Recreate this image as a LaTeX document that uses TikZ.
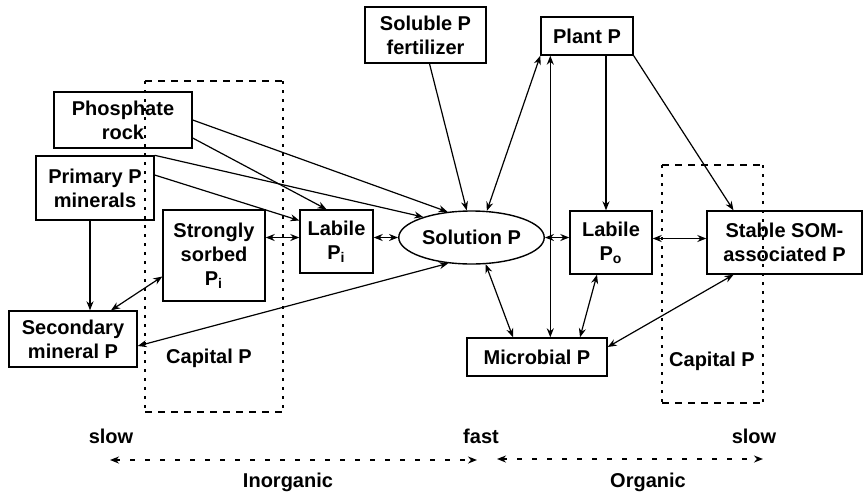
\documentclass[tikz,border=0pt]{standalone}
\usepackage{fontspec}
\setmainfont{Liberation Sans}
\usetikzlibrary{shapes.geometric,arrows.meta}
\tikzset{
	pool/.style={draw,line width=0.7pt,align=center,font=\bfseries,inner sep=1pt},
	soln/.style={pool,ellipse},
	hside/.style={line width=1pt,dash pattern=on 3.5pt off 3pt},
	vside/.style={line width=1pt,dash pattern=on 1.5pt off 3pt},
	scaleline/.style={<->,line width=1pt,dash pattern=on 2.5pt off 5pt},
	tag/.style={font=\bfseries}
}
\begin{document}
\begin{tikzpicture}[x=0.5pt,y=-0.5pt,>={Stealth[length=4.5pt,width=3.5pt]},line width=0.6pt]
	\useasboundingbox (0,0) rectangle (863,494);
	% capital P boxes
	\draw[hside] (145,81)--(283,81) (145,412)--(283,412);
	\draw[vside] (145,81)--(145,412) (283,81)--(283,412);
	\draw[hside] (662,165)--(763,165) (662,403)--(763,403);
	\draw[vside] (662,165)--(662,403) (763,165)--(763,403);
	\node[tag] (capL) at (209,358) {Capital P};
	\node[tag] (capR) at (712,361) {Capital P};
	% pools
	\node[pool,minimum width=69pt,minimum height=28pt] (rock) at (123,120) {Phosphate\\rock};
	\node[pool,minimum width=59pt,minimum height=32pt] (prim) at (95,188) {Primary P\\minerals};
	\node[pool,minimum width=64pt,minimum height=28pt] (sec) at (73,339) {Secondary\\mineral P};
	\node[pool,minimum width=51pt,minimum height=45.5pt] (sorb) at (214,255.5) {Strongly\\sorbed\\P\textsubscript{i}};
	\node[pool,minimum width=36.5pt,minimum height=31.5pt] (labi) at (336.5,241.5) {Labile\\P\textsubscript{i}};
	\node[soln,minimum width=60.5pt,minimum height=26.5pt] (sol) at (471.5,237.5) {Solution P};
	\node[pool,minimum width=60.5pt,minimum height=28pt] (fert) at (425.5,35) {Soluble P\\fertilizer};
	\node[pool,minimum width=46pt,minimum height=19pt] (plant) at (587,36) {Plant P};
	\node[pool,minimum width=41pt,minimum height=31.5pt] (labo) at (611,242.5) {Labile\\P\textsubscript{o}};
	\node[pool,minimum width=77.5pt,minimum height=31.5pt] (som) at (784.5,242.5) {Stable SOM-\\associated P};
	\node[pool,minimum width=70pt,minimum height=19pt] (mic) at (537,357) {Microbial P};
	% inorganic side
	\draw[->] (rock.east) -- (sol.133);
	\draw[->] ([yshift=-9pt]rock.east) -- ([xshift=-5pt]labi.north);
	\draw[->] (prim.north east) -- (sol.157);
	\draw[->] ([yshift=6.5pt]prim.east) -- ([yshift=10.5pt]labi.west);
	\draw[->] ([xshift=-2.5pt]prim.south) -- ([xshift=-2.5pt]prim.south |- sec.north);
	\draw[<->] ([xshift=19pt]sec.north) -- ([yshift=-10.5pt]sorb.west);
	\draw[<->] (sorb.east |- sol.west) -- (labi.west |- sol.west);
	\draw[<->] (labi.east |- sol.west) -- (sol.west);
	\draw[<->] (sol.228) -- ([yshift=-3.5pt]sec.east);
	\draw[->] ([xshift=2pt]fert.south) -- (sol.100);
	% organic side
	\draw[<->] (sol.60) -- (plant.south west);
	\draw[<->] (sol.east) -- (sol.east -| labo.west);
	\draw[<->] ([xshift=5pt]plant.south west) -- ([xshift=5pt]plant.south west |- mic.north);
	\draw[->] ([xshift=9.5pt]plant.south) -- ([xshift=9.5pt]plant.south |- labo.north);
	\draw[->] (plant.south east) -- ([xshift=-25.5pt]som.north);
	\draw[<->] ([yshift=2pt]labo.east) -- ([yshift=2pt]som.west);
	\draw[<->] (sol.298) -- ([xshift=-12pt]mic.north);
	\draw[<->] ([xshift=-7pt]labo.south) -- ([xshift=21.5pt]mic.north);
	\draw[<->] ([xshift=-25.5pt]som.south) -- ([yshift=5pt]mic.east);
	% rate scale
	\node[tag] (slowL) at (111,436) {slow};
	\node[tag] (fast) at (481,436) {fast};
	\node[tag] (slowR) at (754,436) {slow};
	\node[tag] (inorg) at (288,482) {Inorganic};
	\node[tag] (org) at (648,482) {Organic};
	\coordinate (inL) at (110,460);
	\coordinate (inR) at (477,460);
	\coordinate (orL) at (497,459);
	\coordinate (orR) at (763,459);
	\draw[scaleline] (inL) -- (inR);
	\draw[scaleline] (orL) -- (orR);
\end{tikzpicture}
\end{document}
